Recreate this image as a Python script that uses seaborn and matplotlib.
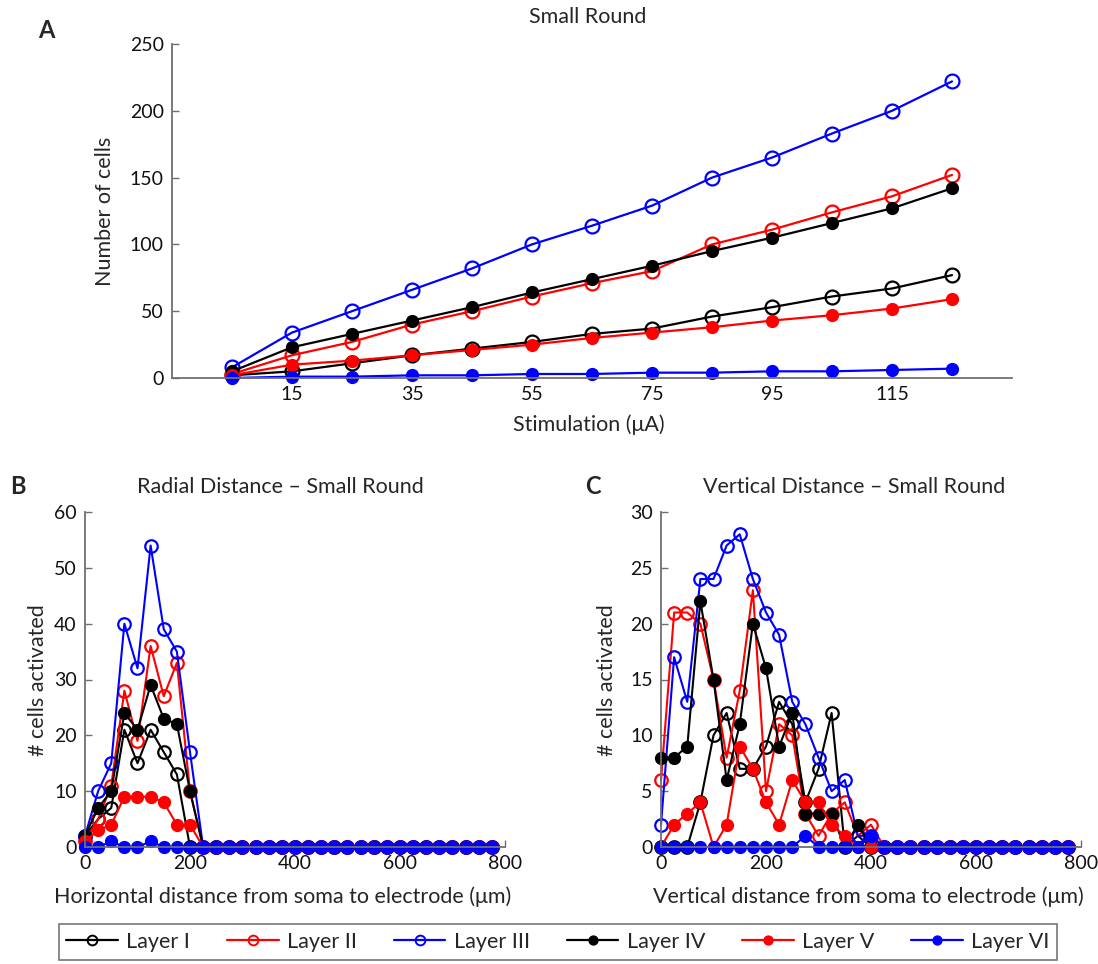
import numpy as np
import pandas as pd
import matplotlib
matplotlib.use("Agg")
import matplotlib.pyplot as plt
import seaborn as sns
from matplotlib.lines import Line2D

sns.set_style("ticks")
plt.rcParams['font.family'] = ['Lato', 'DejaVu Sans']

layers = ["Layer I", "Layer II", "Layer III", "Layer IV", "Layer V", "Layer VI"]
colors = ["#000000", "#ff0000", "#0000ff", "#000000", "#ff0000", "#0000ff"]
filled = [False, False, False, True, True, True]

# Panel A
stim = [5, 15, 25, 35, 45, 55, 65, 75, 85, 95, 105, 115, 125]
a_I = [2, 5, 11, 17, 22, 27, 33, 37, 46, 53, 61, 67, 77]
a_II = [3, 17, 27, 40, 50, 61, 71, 80, 100, 111, 124, 136, 152]
a_III = [8, 34, 50, 66, 82, 100, 114, 129, 150, 165, 183, 200, 222]
a_IV = [5, 23, 33, 43, 53, 64, 74, 84, 95, 105, 116, 127, 142]
a_V = [2, 10, 13, 17, 21, 25, 30, 34, 38, 43, 47, 52, 59]
a_VI = [0, 1, 1, 2, 2, 3, 3, 4, 4, 5, 5, 6, 7]
a_xticks = [15, 35, 55, 75, 95, 115]
a_yticks = [0, 50, 100, 150, 200, 250]

# Panel B (radial distance), 25 um bins
dist = list(range(0, 800, 25))
b_I = [2, 5, 7, 21, 15, 21, 17, 13, 0, 0]
b_II = [1, 5, 11, 28, 19, 36, 27, 33, 10, 0]
b_III = [2, 10, 15, 40, 32, 54, 39, 35, 17, 0]
b_IV = [2, 7, 10, 24, 21, 29, 23, 22, 10, 0]
b_V = [1, 3, 4, 9, 9, 9, 8, 4, 4, 0]
b_VI = [0, 0, 1, 0, 0, 1, 0, 0, 0, 0]
b_yticks = [0, 10, 20, 30, 40, 50, 60]

# Panel C (vertical distance)
c_I = [0, 0, 0, 4, 10, 12, 7, 7, 9, 13, 11, 4, 7, 12, 0, 1, 0, 0]
c_II = [6, 21, 21, 20, 15, 8, 14, 23, 5, 11, 10, 3, 1, 3, 4, 1, 2, 0]
c_III = [2, 17, 13, 24, 24, 27, 28, 24, 21, 19, 13, 11, 8, 5, 6, 1, 1, 0]
c_IV = [8, 8, 9, 22, 15, 6, 11, 20, 16, 9, 12, 3, 3, 3, 0, 2, 0, 0]
c_V = [0, 2, 3, 4, 0, 2, 9, 7, 4, 2, 6, 4, 4, 2, 1, 0, 0, 0]
c_VI = [0, 0, 0, 0, 0, 0, 0, 0, 0, 0, 0, 1, 0, 0, 0, 0, 1, 0]
c_yticks = [0, 5, 10, 15, 20, 25, 30]
dist_ticks = [0, 200, 400, 600, 800]


def pad(vals, n):
    return list(vals) + [0] * (n - len(vals))


W, H = 1098, 964
fig = plt.figure(figsize=(W / 100, H / 100), dpi=100)

def px_axes(left, right, top, bottom):
    return fig.add_axes([left / W, 1 - bottom / H, (right - left) / W, (bottom - top) / H])

axA = px_axes(172, 1012, 44, 378)
axB = px_axes(85, 505, 512, 847)
axC = px_axes(661, 1081, 512, 847)

spine_col = "#707070"
FS_T = 14
FS_L = 15.5

def style(ax):
    sns.despine(ax=ax)
    for s in ["left", "bottom"]:
        ax.spines[s].set_color(spine_col)
        ax.spines[s].set_linewidth(1.3)
    ax.tick_params(direction="in", length=5, width=1.0, color=spine_col,
                   labelsize=FS_T, labelcolor="#111111", pad=6)
    ax.set_facecolor("white")


def draw(ax, x, series, ms_open, ms_fill, lw):
    for name, y, c, f in zip(layers, series, colors, filled):
        df = pd.DataFrame({"x": x, "y": y})
        if f:
            kw = dict(markerfacecolor=c, markeredgecolor=c, markersize=ms_fill, markeredgewidth=1.0)
        else:
            kw = dict(markerfacecolor="none", markeredgecolor=c, markersize=ms_open, markeredgewidth=1.6)
        sns.lineplot(data=df, x="x", y="y", ax=ax, color=c, linewidth=lw, marker="o",
                     sort=False, estimator=None, clip_on=False, legend=False, **kw)


draw(axA, stim, [a_I, a_II, a_III, a_IV, a_V, a_VI], 10, 8.5, 1.6)
style(axA)
axA.set_xlim(-5, 135)
axA.set_ylim(0, 250)
axA.set_xticks(a_xticks)
axA.set_yticks(a_yticks)
axA.set_xlabel("")
axA.set_ylabel("")

n = len(dist)
draw(axB, dist, [pad(v, n) for v in [b_I, b_II, b_III, b_IV, b_V, b_VI]], 9, 8.5, 1.5)
style(axB)
axB.set_xlim(0, 800)
axB.set_ylim(0, 60)
axB.set_xticks(dist_ticks)
axB.set_yticks(b_yticks)
axB.set_xlabel("")
axB.set_ylabel("")

draw(axC, dist, [pad(v, n) for v in [c_I, c_II, c_III, c_IV, c_V, c_VI]], 9, 8.5, 1.5)
style(axC)
axC.set_xlim(0, 800)
axC.set_ylim(0, 30)
axC.set_xticks(dist_ticks)
axC.set_yticks(c_yticks)
axC.set_xlabel("")
axC.set_ylabel("")

def ftext(x, y, s, **kw):
    fig.text(x / W, 1 - y / H, s, ha=kw.pop("ha", "center"), va=kw.pop("va", "center"), **kw)

ftext(588, 17, "Small Round", fontsize=FS_L)
ftext(280, 487, "Radial Distance \u2013 Small Round", fontsize=FS_L)
ftext(854, 487, "Vertical Distance \u2013 Small Round", fontsize=FS_L)
ftext(46, 30, "A", fontsize=17, fontweight="bold")
ftext(18, 487, "B", fontsize=17, fontweight="bold")
ftext(593, 487, "C", fontsize=17, fontweight="bold")
ftext(589, 425, "Stimulation (\u03bcA)", fontsize=FS_L)
ftext(105, 211, "Number of cells", fontsize=FS_L, rotation=90)
ftext(283, 897, "Horizontal distance from soma to electrode (\u03bcm)", fontsize=FS_L)
ftext(868, 897, "Vertical distance from soma to electrode (\u03bcm)", fontsize=FS_L)
ftext(38, 680, "# cells activated", fontsize=FS_L, rotation=90)
ftext(607, 680, "# cells activated", fontsize=FS_L, rotation=90)

handles = []
for name, c, f in zip(layers, colors, filled):
    handles.append(Line2D([], [], color=c, linewidth=1.6, marker="o",
                          markersize=6 if f else 7,
                          markerfacecolor=c if f else "none", markeredgecolor=c,
                          markeredgewidth=1.4))
leg = fig.legend(handles, layers, ncol=6, loc="center", bbox_to_anchor=(558 / W, 1 - 942 / H),
                 frameon=True, fancybox=False, fontsize=FS_L, handlelength=2.4,
                 columnspacing=1.7, handletextpad=0.4, borderpad=0.35)
leg.get_frame().set_edgecolor("#555555")
leg.get_frame().set_linewidth(1.2)

fig.savefig("out.png", dpi=100, facecolor="white")
